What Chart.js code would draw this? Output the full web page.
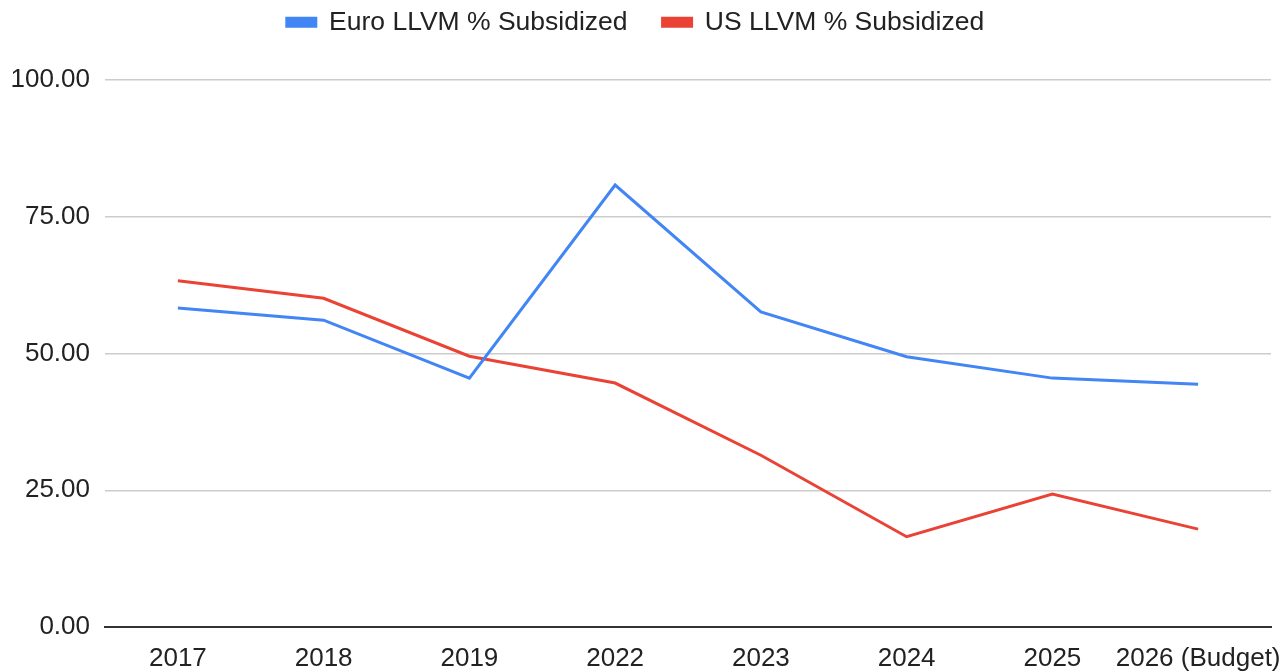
<!DOCTYPE html>
<html>
<head>
<meta charset="utf-8">
<script src="https://cdn.jsdelivr.net/npm/chart.js@4/dist/chart.umd.min.js"></script>
<style>
html,body{margin:0;padding:0;background:#fff;}
#wrap{width:1286px;height:671px;position:relative;}
</style>
</head>
<body>
<div id="wrap"><canvas id="c" width="1286" height="671"></canvas></div>
<script>
const categories = ["2017","2018","2019","2022","2023","2024","2025","2026 (Budget)"];
const euroValues = [58.3, 56.1, 45.5, 80.8, 57.6, 49.4, 45.5, 44.4];
const usValues = [63.3, 60.1, 49.5, 44.6, 31.4, 16.5, 24.3, 17.9];
const yTicks = [0, 25, 50, 75, 100];

const FONT = "'Liberation Sans', Arial, sans-serif";

const legendFitPlugin = {
  id: 'legendFit',
  beforeInit(chart) {
    if (chart.legend) {
      const lg = chart.legend;
      const origFit = lg.fit;
      lg.fit = function() { origFit.call(this); this.height = 80; };
      const origDraw = lg.draw;
      lg.draw = function(area) {
        const ctx = this.ctx;
        ctx.save();
        ctx.translate(0, -26);
        origDraw.call(this, area);
        ctx.restore();
      };
    }
  }
};

new Chart(document.getElementById('c'), {
  type: 'line',
  data: {
    labels: categories,
    datasets: [
      { label: 'Euro LLVM % Subsidized', data: euroValues, borderColor: '#4285F4', backgroundColor: '#4285F4', borderWidth: 3, pointRadius: 0, tension: 0 },
      { label: 'US LLVM % Subsidized', data: usValues, borderColor: '#EA4335', backgroundColor: '#EA4335', borderWidth: 3, pointRadius: 0, tension: 0 }
    ]
  },
  options: {
    responsive: false,
    animation: false,
    layout: { padding: { left: 0, right: 15, top: 0, bottom: 0 } },
    plugins: {
      legend: {
        position: 'top',
        labels: {
          boxWidth: 29, boxHeight: 8, padding: 35,
          color: '#222', font: { family: FONT, size: 26.5 }
        }
      },
      tooltip: { enabled: false }
    },
    scales: {
      x: {
        offset: true,
        grid: { display: false, drawTicks: false, offset: true },
        border: { display: true, color: '#333', width: 2 },
        ticks: { color: '#222', font: { family: FONT, size: 26 }, padding: 16, maxRotation: 0, autoSkip: false },
        afterFit(s) { s.height = 44; s.paddingRight = 0; s.paddingLeft = 0; }
      },
      y: {
        min: 0, max: 100,
        afterBuildTicks(s) { s.ticks = yTicks.map(v => ({ value: v })); },
        grid: { color: '#cccccc', lineWidth: 1.5, drawTicks: false },
        border: { display: false },
        ticks: { color: '#222', font: { family: FONT, size: 26 }, padding: 15, callback: v => Number(v).toFixed(2) },
        afterFit(s) { s.width = 105; }
      }
    }
  },
  plugins: [legendFitPlugin]
});
</script>
</body>
</html>
